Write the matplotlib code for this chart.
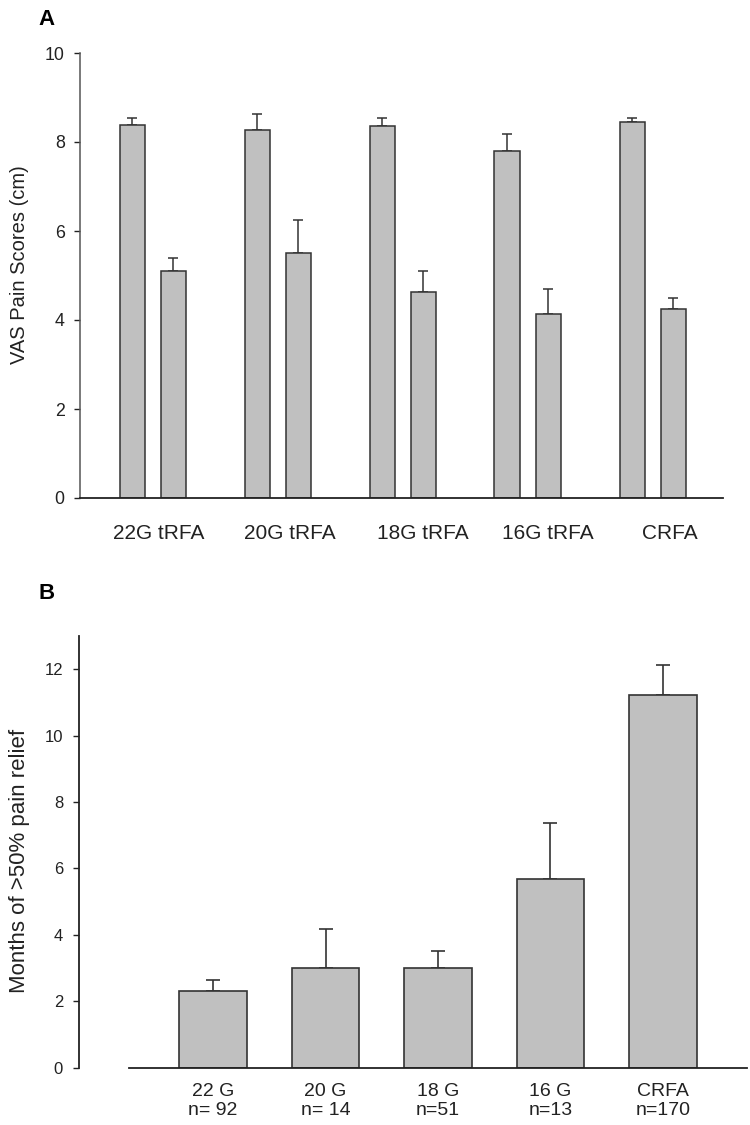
import matplotlib
matplotlib.use("Agg")
import matplotlib.pyplot as plt
import numpy as np

plt.rcParams['font.family'] = ['Liberation Sans', 'DejaVu Sans']

# ---------------- data ----------------
groups_a = ["22G tRFA", "20G tRFA", "18G tRFA", "16G tRFA", "CRFA"]
vas_before = [8.38, 8.28, 8.36, 7.80, 8.44]
vas_before_err = [0.16, 0.34, 0.19, 0.39, 0.11]
vas_after = [5.10, 5.50, 4.64, 4.13, 4.25]
vas_after_err = [0.29, 0.75, 0.46, 0.57, 0.25]
yticks_a = [0, 2, 4, 6, 8, 10]

groups_b = ["22 G\nn= 92", "20 G\nn= 14", "18 G\nn=51", "16 G\nn=13", "CRFA\nn=170"]
months = [2.29, 3.01, 2.99, 5.68, 11.21]
months_err = [0.35, 1.17, 0.52, 1.70, 0.92]
yticks_b = [0, 2, 4, 6, 8, 10, 12]

# ---------------- style ----------------
FACE = '#c0c0c0'
EDGE = '#333333'
TXT = '#222222'
W, H = 750, 1125

fig = plt.figure(figsize=(7.5, 11.25), dpi=100)

# ---------------- Panel A ----------------
axA = fig.add_axes([80 / W, 1 - 498 / H, 643 / W, 445 / H])
xa = np.arange(len(groups_a))
bw = 0.2
off = 0.164
zeros = np.zeros(len(groups_a))
axA.bar(xa - off, vas_before, bw, color=FACE, edgecolor=EDGE, linewidth=1.1, zorder=2)
axA.bar(xa + off, vas_after, bw, color=FACE, edgecolor=EDGE, linewidth=1.1, zorder=2)
axA.errorbar(xa - off, vas_before, yerr=[zeros, vas_before_err], fmt='none',
             ecolor=EDGE, elinewidth=1.1, capsize=3.3, capthick=1.1, zorder=1)
axA.errorbar(xa + off, vas_after, yerr=[zeros, vas_after_err], fmt='none',
             ecolor=EDGE, elinewidth=1.1, capsize=3.3, capthick=1.1, zorder=1)
axA.set_xlim(-0.58, 4.564)
axA.set_ylim(0, 10)
axA.set_yticks(yticks_a)
axA.set_xticks(xa + np.array([0.05, 0.10, 0.16, 0.16, 0.14]))
axA.set_xticklabels(groups_a, fontsize=15, color=TXT)
axA.tick_params(axis='x', length=0, pad=19)
axA.tick_params(axis='y', labelsize=12.8, length=4.5, width=1, pad=6.5, colors=TXT)
for s in ['top', 'right']:
    axA.spines[s].set_visible(False)
axA.spines['left'].set_color('#555555')
axA.spines['left'].set_linewidth(1.1)
axA.spines['bottom'].set_color('#222222')
axA.spines['bottom'].set_linewidth(1.3)
fig.text(20 / W, 1 - 265 / H, "VAS Pain Scores (cm)", rotation=90, ha='center', va='center',
         fontsize=14.5, color=TXT)
fig.text(38 / W, 1 - 25 / H, "A", fontsize=16, fontweight='bold', color='black', va='baseline')

# ---------------- Panel B ----------------
axB = fig.add_axes([129 / W, 1 - 1067.5 / H, 618 / W, 431.5 / H])
xb = np.arange(len(groups_b))
bwb = 0.604
axB.bar(xb, months, bwb, color=FACE, edgecolor=EDGE, linewidth=1.2, zorder=2)
axB.errorbar(xb, months, yerr=[np.zeros(len(groups_b)), months_err], fmt='none',
             ecolor=EDGE, elinewidth=1.2, capsize=5, capthick=1.2, zorder=1)
axB.set_xlim(-0.747, 4.747)
axB.set_ylim(0, 13)
axB.set_yticks(yticks_b)
axB.set_xticks(xb)
axB.set_xticklabels(groups_b, fontsize=14, color=TXT, linespacing=1.2)
axB.tick_params(axis='x', length=0, pad=11)
axB.tick_params(axis='y', labelsize=12, length=4.5, width=1, pad=7, colors=TXT)
for s in ['top', 'right']:
    axB.spines[s].set_visible(False)
axB.spines['left'].set_position(('outward', 36))
axB.spines['left'].set_color('#222222')
axB.spines['left'].set_linewidth(1.3)
axB.spines['bottom'].set_color('#222222')
axB.spines['bottom'].set_linewidth(1.3)
fig.text(20 / W, 1 - 861 / H, "Months of >50% pain relief", rotation=90, ha='center', va='center',
         fontsize=16, color=TXT)
fig.text(38 / W, 1 - 599 / H, "B", fontsize=16, fontweight='bold', color='black', va='baseline')

fig.savefig("out.png", dpi=100)
